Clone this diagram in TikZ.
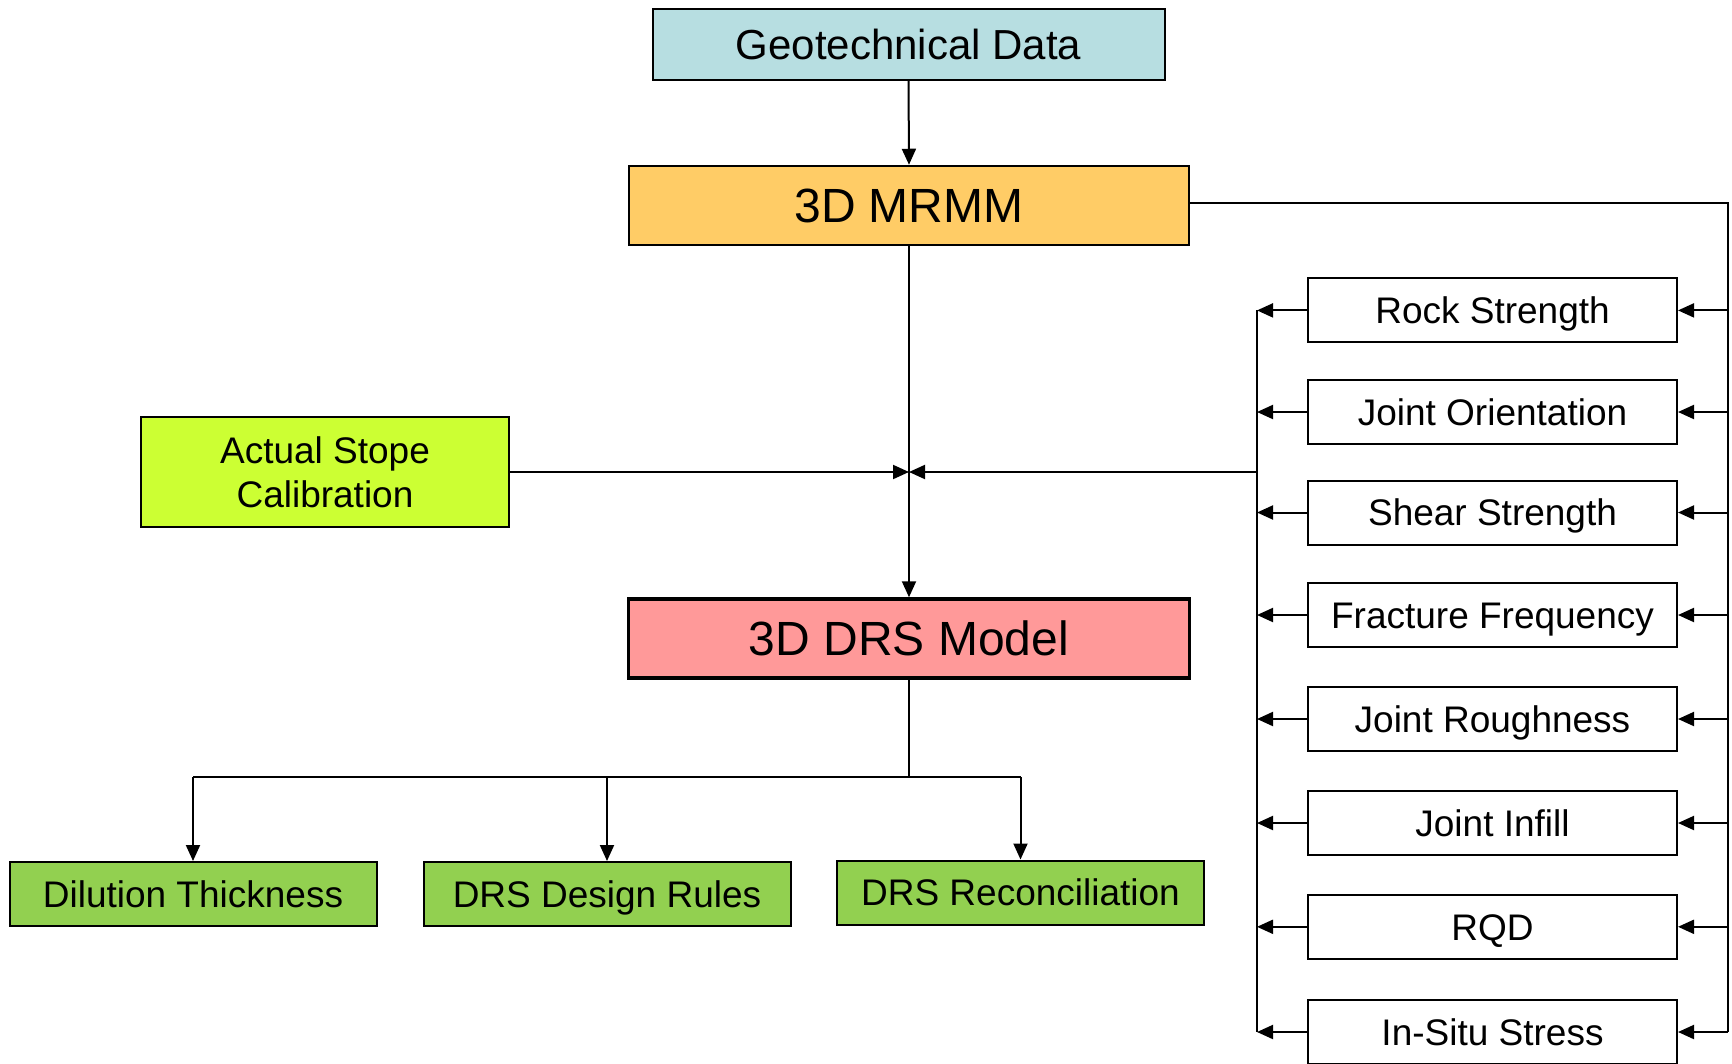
\documentclass[tikz,border=0pt]{standalone}
\usepackage{fontspec}
\setmainfont{Liberation Sans}
\usetikzlibrary{arrows.meta}
\definecolor{geoc}{RGB}{183,222,225}
\definecolor{mrmmc}{RGB}{255,204,102}
\definecolor{drsc}{RGB}{255,153,153}
\definecolor{stopec}{RGB}{204,255,51}
\definecolor{greenc}{RGB}{146,208,80}
\begin{document}
\begin{tikzpicture}[x=1pt,y=-1pt,
  box/.style={draw=black, line width=2pt, inner sep=0pt, align=center, font=\fontsize{37}{44.4}\selectfont},
  capc/.style={text height=#1, text depth=0pt},
  sidebox/.style={box, capc=26.5pt, fill=white, minimum width=369pt, minimum height=64pt},
  botbox/.style={box, capc=26.5pt, fill=greenc, minimum width=367pt, minimum height=64pt},
  conn/.style={line width=2pt},
  arr/.style={conn, -{Triangle[length=16pt,width=14pt]}}]
\useasboundingbox[fill=white] (0,0) rectangle (1732,1063);

\node[box, capc=30.1pt, fill=geoc, minimum width=512pt, minimum height=71pt, font=\fontsize{42}{50}\selectfont] (geo) at (908.5,44) {Geotechnical Data};
\node[box, capc=34.4pt, fill=mrmmc, minimum width=560pt, minimum height=79.5pt, font=\fontsize{48}{56}\selectfont] (mrmm) at (909,205.5) {3D MRMM};
\node[box, capc=34.4pt, fill=drsc, line width=3.5pt, minimum width=561pt, minimum height=79pt, font=\fontsize{48}{56}\selectfont] (drs) at (909,638.5) {3D DRS Model};
\node[box, fill=stopec, minimum width=368.5pt, minimum height=110pt] (stope) at (325,472) {Actual Stope\\Calibration};

\node[botbox] (dil) at (193,894) {Dilution Thickness};
\node[botbox] (rules) at (607,894) {DRS Design Rules};
\node[botbox] (recon) at (1020.5,892.5) {DRS Reconciliation};

\node[sidebox] (s1) at (1492.5,310.4) {Rock Strength};
\node[sidebox] (s2) at (1492.5,412) {Joint Orientation};
\node[sidebox] (s3) at (1492.5,512.5) {Shear Strength};
\node[sidebox] (s4) at (1492.5,615) {Fracture Frequency};
\node[sidebox] (s5) at (1492.5,719) {Joint Roughness};
\node[sidebox] (s6) at (1492.5,823) {Joint Infill};
\node[sidebox] (s7) at (1492.5,926.8) {RQD};
\node[sidebox] (s8) at (1492.5,1032) {In-Situ Stress};

\coordinate (lb) at (1257,472);
\coordinate (rb) at (1728,203.3);
\coordinate (bb) at (909,777);

% main column
\draw[arr] (geo.south) -- (mrmm.north);
\draw[arr] (mrmm.south) -- (drs.north);
\draw[arr] (stope.east) -- (mrmm.south |- stope.east);
\draw[arr] (lb) -- (mrmm.south |- lb);

% right feed bus
\draw[conn] (mrmm.east |- rb) -- (rb) -- (s8.east -| rb);
% left collect bus
\draw[conn] (s1.west -| lb) -- (s8.west -| lb);
\foreach \s in {s1,s2,s3,s4,s5,s6,s7,s8}{
  \draw[arr] (\s.east -| rb) -- (\s.east);
  \draw[arr] (\s.west) -- (\s.west -| lb);
}

% bottom distribution
\draw[conn] (drs.south) -- (bb);
\draw[conn] (dil.north |- bb) -- (recon.north |- bb);
\draw[arr] (dil.north |- bb) -- (dil.north);
\draw[arr] (rules.north |- bb) -- (rules.north);
\draw[arr] (recon.north |- bb) -- (recon.north);
\end{tikzpicture}
\end{document}
